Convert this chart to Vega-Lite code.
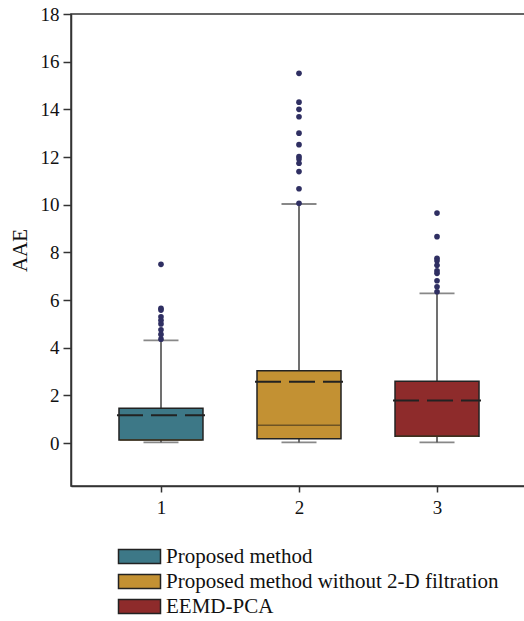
{
  "$schema": "https://vega.github.io/schema/vega-lite/v6.json",
  "autosize": {"type": "none"},
  "width": 456,
  "height": 472,
  "padding": {"left": 71, "top": 14, "right": 0, "bottom": 135},
  "config": {
    "font": "Times New Roman, Liberation Serif, serif",
    "view": {"stroke": "#333", "strokeWidth": 1.5},
    "axis": {
      "grid": false,
      "domainColor": "#333",
      "domainWidth": 1.5,
      "tickColor": "#333",
      "tickWidth": 1.5,
      "labelColor": "#111",
      "labelFont": "Times New Roman, Liberation Serif, serif",
      "titleFont": "Times New Roman, Liberation Serif, serif",
      "labelFontSize": 19,
      "titleColor": "#111",
      "titleFontWeight": "normal",
      "titleFontSize": 21
    },
    "legend": {
      "labelFont": "Times New Roman, Liberation Serif, serif"
    }
  },
  "datasets": {
    "boxes": [
      {"group": "1", "method": "Proposed method", "lower": 0.03, "q1": 0.13, "median": 0.13, "q3": 1.46, "upper": 4.31, "mean": 1.17},
      {"group": "2", "method": "Proposed method without 2-D filtration", "lower": 0.03, "q1": 0.18, "median": 0.75, "q3": 3.03, "upper": 10.03, "mean": 2.57},
      {"group": "3", "method": "EEMD-PCA", "lower": 0.03, "q1": 0.29, "median": 0.29, "q3": 2.59, "upper": 6.28, "mean": 1.79}
    ],
    "outliers": [
      {"group": "1", "value": 7.5},
      {"group": "1", "value": 5.65},
      {"group": "1", "value": 5.58},
      {"group": "1", "value": 5.3},
      {"group": "1", "value": 5.15},
      {"group": "1", "value": 5.0},
      {"group": "1", "value": 4.75},
      {"group": "1", "value": 4.56},
      {"group": "1", "value": 4.36},
      {"group": "2", "value": 15.51},
      {"group": "2", "value": 14.3},
      {"group": "2", "value": 14.0},
      {"group": "2", "value": 13.69},
      {"group": "2", "value": 13.0},
      {"group": "2", "value": 12.52},
      {"group": "2", "value": 12.02},
      {"group": "2", "value": 11.92},
      {"group": "2", "value": 11.74},
      {"group": "2", "value": 11.39},
      {"group": "2", "value": 10.67},
      {"group": "2", "value": 10.06},
      {"group": "3", "value": 9.65},
      {"group": "3", "value": 8.66},
      {"group": "3", "value": 7.75},
      {"group": "3", "value": 7.65},
      {"group": "3", "value": 7.46},
      {"group": "3", "value": 7.23},
      {"group": "3", "value": 7.12},
      {"group": "3", "value": 6.81},
      {"group": "3", "value": 6.56},
      {"group": "3", "value": 6.35}
    ]
  },
  "encoding": {
    "x": {
      "field": "group",
      "type": "ordinal",
      "scale": {"type": "point", "padding": 0.652},
      "axis": {"title": null, "labelAngle": 0, "tickSize": 6, "labelPadding": 6}
    }
  },
  "layer": [
    {
      "data": {"name": "boxes"},
      "mark": {"type": "rule", "color": "#707070", "strokeWidth": 2},
      "encoding": {
        "y": {
          "field": "lower",
          "type": "quantitative",
          "scale": {"domain": [-1.8, 18], "nice": false, "zero": false},
          "title": "AAE",
          "axis": {"values": [0, 2, 4, 6, 8, 10, 12, 14, 16, 18], "tickSize": 8, "labelPadding": 4, "titlePadding": 10}
        },
        "y2": {"field": "upper"}
      }
    },
    {
      "data": {"name": "boxes"},
      "mark": {"type": "tick", "orient": "horizontal", "size": 35, "thickness": 1.8, "color": "#555"},
      "encoding": {
        "y": {"field": "upper", "type": "quantitative", "title": "AAE"}
      }
    },
    {
      "data": {"name": "boxes"},
      "mark": {"type": "tick", "orient": "horizontal", "size": 35, "thickness": 1.8, "color": "#555"},
      "encoding": {
        "y": {"field": "lower", "type": "quantitative", "title": "AAE"}
      }
    },
    {
      "data": {"name": "boxes"},
      "mark": {"type": "bar", "size": 84, "stroke": "#222", "strokeWidth": 1.5},
      "encoding": {
        "y": {"field": "q1", "type": "quantitative", "title": "AAE"},
        "y2": {"field": "q3"},
        "color": {
          "field": "method",
          "type": "nominal",
          "scale": {
            "domain": ["Proposed method", "Proposed method without 2-D filtration", "EEMD-PCA"],
            "range": ["#3d7887", "#c39133", "#8e2b2b"]
          },
          "legend": {
            "orient": "none",
            "legendX": 58,
            "legendY": 532,
            "title": null,
            "padding": 0,
            "symbolType": "M-3,-1H3V1H-3Z",
            "symbolSize": 196,
            "symbolStrokeColor": "#222",
            "symbolStrokeWidth": 1.5,
            "symbolOpacity": 1,
            "labelFontSize": 21,
            "labelColor": "#111",
            "labelOffset": 16,
            "labelLimit": 500,
            "rowPadding": 3
          }
        }
      }
    },
    {
      "data": {"name": "boxes"},
      "mark": {"type": "tick", "orient": "horizontal", "size": 82, "thickness": 1.5, "color": "#4a3a1e"},
      "encoding": {
        "y": {"field": "median", "type": "quantitative", "title": "AAE"}
      }
    },
    {
      "data": {"name": "boxes"},
      "mark": {"type": "rule", "color": "#222", "strokeWidth": 2, "strokeDash": [26, 8], "xOffset": -44, "x2Offset": 44},
      "encoding": {
        "x2": {"field": "group"},
        "y": {"field": "mean", "type": "quantitative", "title": "AAE"}
      }
    },
    {
      "data": {"name": "outliers"},
      "mark": {"type": "point", "shape": "circle", "filled": true, "size": 32, "color": "#2f2f62", "opacity": 1},
      "encoding": {
        "y": {"field": "value", "type": "quantitative", "title": "AAE"}
      }
    }
  ]
}
